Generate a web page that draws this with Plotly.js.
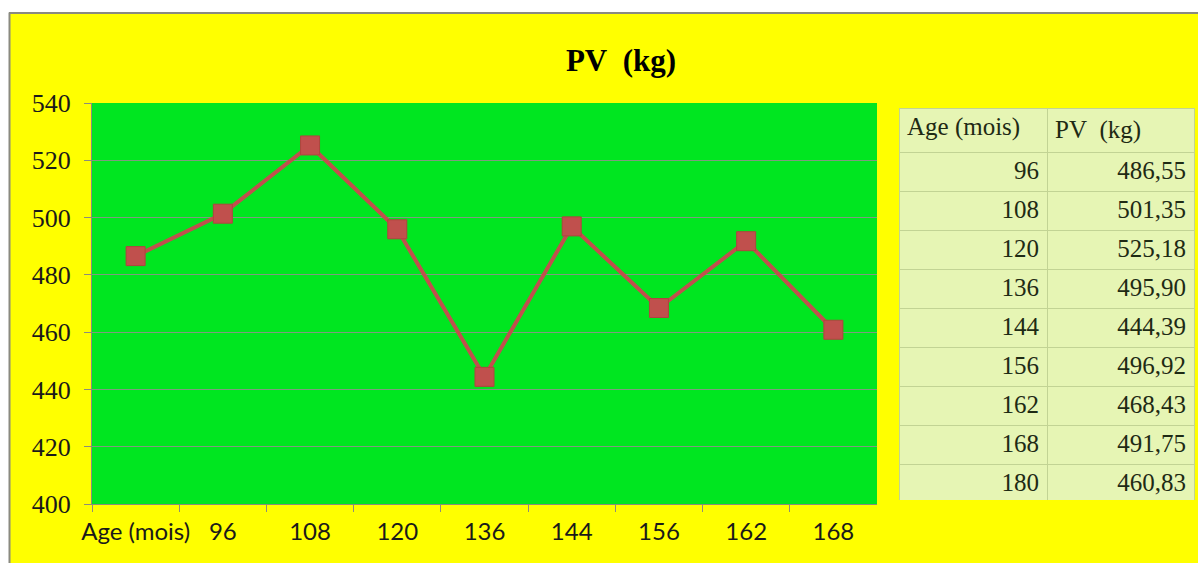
<!DOCTYPE html>
<html>
<head>
<meta charset="utf-8">
<script src="https://cdn.plot.ly/plotly-3.0.1.min.js"></script>
<style>
  html, body { margin: 0; padding: 0; background: #ffffff; }
  #chart { width: 1198px; height: 563px; }
</style>
</head>
<body>
<div id="chart"></div>
<script>
// ---- data ----
var chartTitle = 'PV&nbsp; (kg)';
var xCategories = ['Age (mois)', '96', '108', '120', '136', '144', '156', '162', '168'];
var pvValues = [486.55, 501.35, 525.18, 495.90, 444.39, 496.92, 468.43, 491.75, 460.83];
var tableHeader = ['Age (mois)', 'PV&nbsp; (kg)'];
var tableAges = ['96', '108', '120', '136', '144', '156', '162', '168', '180'];
var tablePV = ['486,55', '501,35', '525,18', '495,90', '444,39', '496,92', '468,43', '491,75', '460,83'];
var yTickVals = [400, 420, 440, 460, 480, 500, 520, 540];

// ---- geometry helpers (pixels -> paper fractions) ----
var W = 1198, H = 563;
function fx(px) { return px / W; }
function fy(py) { return 1 - py / H; }

var lineTrace = {
  type: 'scatter',
  mode: 'lines+markers',
  x: xCategories,
  y: pvValues,
  line: { color: '#c0504d', width: 4 },
  marker: { symbol: 'square', size: 19, color: '#c0504d', line: { color: '#b0443f', width: 1 } },
  hoverinfo: 'x+y',
  showlegend: false
};

var tableTrace = {
  type: 'table',
  domain: { x: [fx(899), fx(1194)], y: [fy(500), fy(108)] },
  columnwidth: [148, 147],
  header: {
    values: tableHeader,
    align: ['left', 'left'],
    height: 39,
    fill: { color: '#e6f5b4' },
    line: { color: '#c2d394', width: 1 },
    font: { family: 'Liberation Serif, Times New Roman, serif', size: 25, color: '#1e2a14' }
  },
  cells: {
    values: [tableAges, tablePV],
    align: ['right', 'right'],
    height: 39,
    fill: { color: '#e6f5b4' },
    line: { color: '#c2d394', width: 1 },
    font: { family: 'Liberation Serif, Times New Roman, serif', size: 25, color: '#1e2a14' }
  }
};

var layout = {
  width: W,
  height: H,
  margin: { l: 0, r: 0, t: 0, b: 0, pad: 0 },
  paper_bgcolor: '#ffff00',
  plot_bgcolor: '#00e620',
  showlegend: false,
  title: {
    text: chartTitle,
    xref: 'container', yref: 'container',
    x: fx(621), xanchor: 'center',
    y: fy(60), yanchor: 'middle',
    font: { family: 'Liberation Serif, Times New Roman, serif', size: 31, color: '#000000', weight: 'bold' }
  },
  xaxis: {
    type: 'category',
    domain: [fx(92), fx(877)],
    range: [-0.5, 8.5],
    anchor: 'y',
    showgrid: false,
    zeroline: false,
    showline: true,
    linecolor: '#8c8c7c',
    linewidth: 1,
    ticks: 'outside',
    tickson: 'boundaries',
    ticklen: 7,
    tickcolor: '#8c8c7c',
    tickwidth: 1,
    tickangle: 0,
    ticklabelstandoff: 6,
    tickfont: { family: 'Lato, Open Sans, sans-serif', size: 24, color: '#1a1a1a' },
    fixedrange: true
  },
  yaxis: {
    domain: [fy(504), fy(103)],
    anchor: 'x',
    range: [400, 540],
    tickvals: yTickVals,
    showgrid: true,
    gridcolor: '#7f9a80',
    gridwidth: 1,
    zeroline: false,
    showline: true,
    linecolor: '#8c8c7c',
    linewidth: 1,
    ticks: 'outside',
    ticklen: 7,
    tickcolor: '#8c8c7c',
    tickwidth: 1,
    ticklabelstandoff: 8,
    tickfont: { family: 'Liberation Serif, Times New Roman, serif', size: 26, color: '#1a1a1a' },
    fixedrange: true
  },
  shapes: [
    { type: 'rect', xref: 'paper', yref: 'paper', x0: 0, x1: fx(9), y0: 0, y1: 1,
      fillcolor: '#ffffff', line: { width: 0 }, layer: 'above' },
    { type: 'rect', xref: 'paper', yref: 'paper', x0: 0, x1: 1, y0: fy(12), y1: 1,
      fillcolor: '#ffffff', line: { width: 0 }, layer: 'above' },
    { type: 'line', xref: 'paper', yref: 'paper', x0: fx(9.5), x1: fx(9.5), y0: 0, y1: fy(12.5),
      line: { color: '#8a8a80', width: 2 }, layer: 'above' },
    { type: 'line', xref: 'paper', yref: 'paper', x0: fx(9), x1: 1, y0: fy(13), y1: fy(13),
      line: { color: '#8a8a80', width: 2 }, layer: 'above' }
  ]
};

Plotly.newPlot('chart', [lineTrace, tableTrace], layout, { displayModeBar: false, staticPlot: true });
</script>
</body>
</html>
